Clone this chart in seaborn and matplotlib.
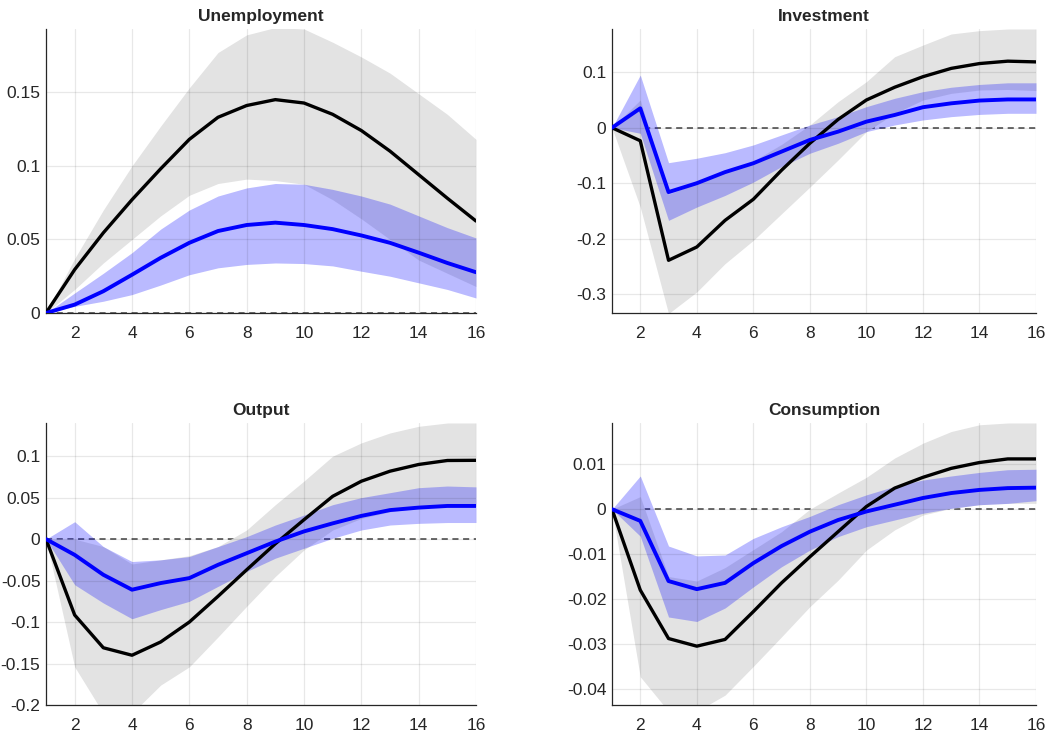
import matplotlib
matplotlib.use('Agg')
import matplotlib.pyplot as plt
import matplotlib.ticker as mticker
import numpy as np
import pandas as pd
import seaborn as sns

# horizon (quarters)
horizon = list(range(1, 17))

# Unemployment
unemp_black = [0, 0.0295, 0.0545, 0.077, 0.098, 0.118, 0.133, 0.141, 0.145, 0.1427, 0.135, 0.124, 0.110, 0.094, 0.078, 0.0625]
unemp_black_hi = [0, 0.037, 0.070, 0.100, 0.127, 0.153, 0.177, 0.189, 0.194, 0.193, 0.184, 0.174, 0.163, 0.149, 0.135, 0.118]
unemp_black_lo = [0, 0.016, 0.034, 0.050, 0.066, 0.080, 0.088, 0.091, 0.090, 0.0875, 0.077, 0.064, 0.050, 0.036, 0.027, 0.018]
unemp_blue = [0, 0.0057, 0.0148, 0.026, 0.0375, 0.0477, 0.0557, 0.0598, 0.0614, 0.0598, 0.057, 0.0527, 0.0477, 0.041, 0.034, 0.0277]
unemp_blue_hi = [0, 0.0136, 0.027, 0.041, 0.057, 0.070, 0.0795, 0.085, 0.088, 0.0875, 0.084, 0.0795, 0.074, 0.066, 0.058, 0.051]
unemp_blue_lo = [0, 0.0045, 0.008, 0.0125, 0.019, 0.026, 0.0307, 0.033, 0.034, 0.0336, 0.032, 0.0284, 0.025, 0.0205, 0.016, 0.0102]

# Investment
inv_black = [0, -0.0235, -0.239, -0.215, -0.167, -0.129, -0.0765, -0.028, 0.015, 0.050, 0.073, 0.092, 0.107, 0.1157, 0.120, 0.1187]
inv_black_hi = [0, 0.05, -0.12, -0.10, -0.08, -0.06, -0.03, 0.005, 0.047, 0.083, 0.128, 0.149, 0.169, 0.175, 0.178, 0.178]
inv_black_lo = [0, -0.143, -0.335, -0.296, -0.245, -0.203, -0.155, -0.107, -0.058, -0.007, 0.026, 0.050, 0.062, 0.068, 0.069, 0.067]
inv_blue = [0, 0.035, -0.116, -0.100, -0.080, -0.064, -0.043, -0.022, -0.007, 0.011, 0.023, 0.037, 0.044, 0.049, 0.051, 0.051]
inv_blue_hi = [0, 0.095, -0.063, -0.055, -0.045, -0.031, -0.013, 0.005, 0.020, 0.038, 0.053, 0.065, 0.073, 0.078, 0.081, 0.081]
inv_blue_lo = [0, -0.010, -0.167, -0.143, -0.122, -0.098, -0.070, -0.046, -0.028, -0.007, 0.005, 0.014, 0.020, 0.024, 0.026, 0.026]

# Output
out_black = [0, -0.0915, -0.131, -0.140, -0.124, -0.100, -0.069, -0.037, -0.0056, 0.0234, 0.0516, 0.0698, 0.0819, 0.090, 0.0948, 0.095]
out_black_hi = [0, 0.0, -0.009, -0.03, -0.025, -0.02, -0.009, 0.011, 0.0415, 0.070, 0.100, 0.116, 0.128, 0.136, 0.140, 0.140]
out_black_lo = [0, -0.154, -0.21, -0.21, -0.176, -0.154, -0.118, -0.081, -0.045, -0.013, 0.011, 0.025, 0.033, 0.0375, 0.0395, 0.0395]
out_blue = [0, -0.019, -0.043, -0.061, -0.053, -0.047, -0.031, -0.017, -0.003, 0.0093, 0.019, 0.028, 0.035, 0.038, 0.040, 0.040]
out_blue_hi = [0, 0.021, -0.009, -0.027, -0.025, -0.021, -0.009, 0.003, 0.017, 0.029, 0.0415, 0.050, 0.056, 0.062, 0.064, 0.063]
out_blue_lo = [0, -0.055, -0.077, -0.096, -0.085, -0.075, -0.057, -0.039, -0.023, -0.011, 0.001, 0.011, 0.017, 0.019, 0.020, 0.020]

# Consumption
cons_black = [0, -0.018, -0.0288, -0.0305, -0.029, -0.0228, -0.0164, -0.0106, -0.005, 0.0006, 0.0047, 0.0071, 0.0091, 0.0104, 0.0112, 0.0112]
cons_black_hi = [0, 0.0028, -0.015, -0.016, -0.013, -0.009, -0.005, 0.0, 0.0036, 0.0071, 0.0114, 0.0147, 0.0173, 0.0188, 0.0192, 0.0192]
cons_black_lo = [0, -0.0373, -0.045, -0.045, -0.0414, -0.035, -0.0284, -0.0217, -0.0158, -0.0091, -0.0046, -0.0013, 0.0002, 0.001, 0.0013, 0.0013]
cons_blue = [0, -0.0026, -0.016, -0.0178, -0.0164, -0.012, -0.0082, -0.005, -0.0024, -0.0005, 0.001, 0.0025, 0.0036, 0.0043, 0.0047, 0.0048]
cons_blue_hi = [0, 0.0074, -0.0082, -0.0104, -0.0102, -0.0065, -0.0039, -0.0016, 0.001, 0.0032, 0.0051, 0.0065, 0.0074, 0.0082, 0.0088, 0.0089]
cons_blue_lo = [0, -0.006, -0.024, -0.025, -0.022, -0.0173, -0.0128, -0.0091, -0.0061, -0.0039, -0.0024, -0.0009, 0.0002, 0.001, 0.0013, 0.0019]

panels = [
    ('Unemployment', unemp_black, unemp_black_lo, unemp_black_hi, unemp_blue, unemp_blue_lo, unemp_blue_hi,
     (0, 0.193), [0, 0.05, 0.1, 0.15]),
    ('Investment', inv_black, inv_black_lo, inv_black_hi, inv_blue, inv_blue_lo, inv_blue_hi,
     (-0.334, 0.178), [-0.3, -0.2, -0.1, 0, 0.1]),
    ('Output', out_black, out_black_lo, out_black_hi, out_blue, out_blue_lo, out_blue_hi,
     (-0.2, 0.14), [-0.2, -0.15, -0.1, -0.05, 0, 0.05, 0.1]),
    ('Consumption', cons_black, cons_black_lo, cons_black_hi, cons_blue, cons_blue_lo, cons_blue_hi,
     (-0.0436, 0.0192), [-0.04, -0.03, -0.02, -0.01, 0, 0.01]),
]

# axes rectangles in pixels (left, top, right, bottom) on a 1059x740 canvas
W, H = 1059, 740
boxes = [(46, 29, 476, 313), (612, 29, 1036, 313), (46, 423, 476, 705), (612, 423, 1036, 705)]

sns.set_style('white')
plt.rcParams['font.family'] = ['Liberation Sans Narrow', 'Liberation Sans', 'DejaVu Sans']

fig = plt.figure(figsize=(W / 100, H / 100), dpi=100)

for (title, bl, bl_lo, bl_hi, bu, bu_lo, bu_hi, ylim, yticks), (l, t, r, b) in zip(panels, boxes):
    ax = fig.add_axes([l / W, 1 - b / H, (r - l) / W, (b - t) / H])
    df = pd.DataFrame({'h': horizon, 'black': bl, 'blue': bu})

    ax.axhline(0, color='#444444', ls=(0, (4, 3)), lw=1.1, zorder=0.8)
    ax.fill_between(horizon, bl_lo, bl_hi, color='#e3e3e3', lw=0, zorder=1)
    ax.fill_between(horizon, bu_lo, bu_hi, color='#0000ff', alpha=0.27, lw=0, zorder=1.1)
    sns.lineplot(data=df, x='h', y='black', ax=ax, color='black', lw=2.4, zorder=3)
    sns.lineplot(data=df, x='h', y='blue', ax=ax, color='#0000ff', lw=2.8, zorder=3.1)

    ax.set_xlim(1, 16)
    ax.set_ylim(*ylim)
    ax.set_xticks(range(2, 17, 2))
    ax.set_yticks(yticks)
    ax.yaxis.set_major_formatter(mticker.FormatStrFormatter('%g'))
    ax.set_xlabel('')
    ax.set_ylabel('')
    ax.set_title(title, fontsize=12.5, fontweight='bold', pad=6)

    ax.set_axisbelow('line')
    ax.grid(True, color='black', alpha=0.09, lw=0.9)
    ax.tick_params(direction='in', length=4, width=0.8, labelsize=12.5, colors='#262626')
    ax.tick_params(axis='x', pad=9)
    ax.tick_params(axis='y', pad=4)
    for side in ['top', 'right']:
        ax.spines[side].set_visible(False)
    for side in ['left', 'bottom']:
        ax.spines[side].set_color('#262626')
        ax.spines[side].set_linewidth(0.9)

fig.savefig('out.png', dpi=100)
